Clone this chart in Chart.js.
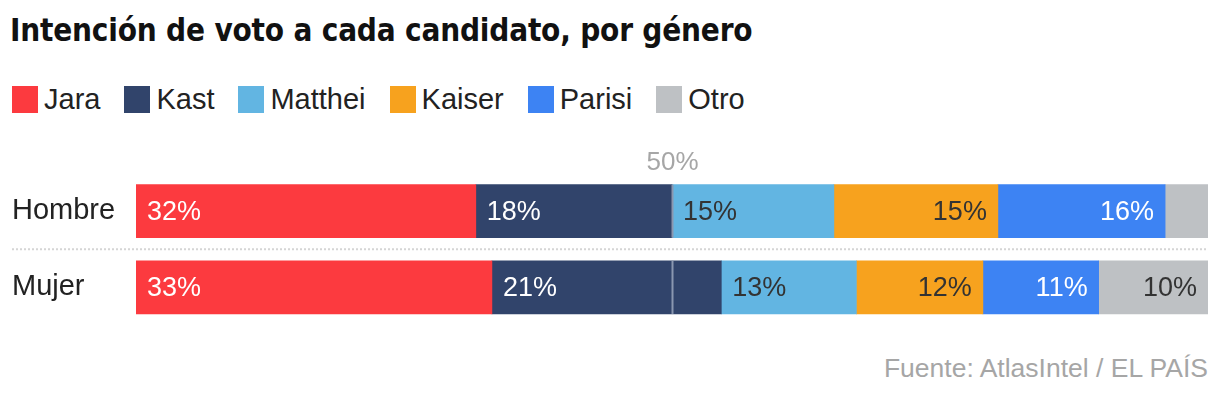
<!DOCTYPE html>
<html>
<head>
<meta charset="utf-8">
<script src="https://cdn.jsdelivr.net/npm/chart.js@4.4.1/dist/chart.umd.min.js"></script>
<style>
    body { margin: 0; background: #fff; width: 1220px; height: 398px; position: relative; overflow: hidden; font-family: "Liberation Sans", Arial, sans-serif; }
    #titulo { position: absolute; left: 10px; top: 12px; font-family: "DejaVu Sans Condensed", "DejaVu Sans", sans-serif; font-weight: bold; font-size: 31.2px; color: #111; letter-spacing: -0.2px; }
    #leyenda { position: absolute; left: 12px; top: 83px; display: flex; }
    .item { display: flex; align-items: center; margin-right: 24px; font-size: 29px; color: #222; }
    .caja { width: 26px; height: 27px; margin-right: 6px; }
    #fuente { position: absolute; right: 12px; top: 353px; font-size: 26.5px; color: #a6a6a6; }
    #wrap { position: absolute; left: 0; top: 141px; width: 1220px; height: 205px; }
</style>
</head>
<body>
<div id="titulo">Intención de voto a cada candidato, por género</div>
<div id="leyenda"></div>
<div id="wrap"><canvas id="grafico"></canvas></div>
<div id="fuente">Fuente: AtlasIntel / EL PAÍS</div>
<script>
// DATOS
const generos = ['Hombre', 'Mujer'];
const candidatos = ['Jara', 'Kast', 'Matthei', 'Kaiser', 'Parisi', 'Otro'];
const colores = ['#fc3a3f', '#31446b', '#62b5e2', '#f7a21e', '#3d83f3', '#bec1c4'];
const colorTexto = ['#fff', '#fff', '#333', '#333', '#fff', '#333'];
const alineado = ['start', 'start', 'start', 'end', 'end', 'end'];
const jara = [31.7, 33.2];
const kast = [18.3, 21.4];
const matthei = [15.1, 12.6];
const kaiser = [15.3, 11.8];
const parisi = [15.6, 10.8];
const otro = [4.0, 10.2];
const series = [jara, kast, matthei, kaiser, parisi, otro];
const marcaMitad = 50;

// leyenda html
const leyenda = document.getElementById('leyenda');
candidatos.forEach((nombre, i) => {
    const item = document.createElement('div');
    item.className = 'item';
    const caja = document.createElement('div');
    caja.className = 'caja';
    caja.style.background = colores[i];
    item.appendChild(caja);
    item.appendChild(document.createTextNode(nombre));
    leyenda.appendChild(item);
});

// etiquetas dentro de las barras + linea 50% + separador
const extras = {
    id: 'extras',
    afterDatasetsDraw(chart) {
        const ctx = chart.ctx;
        const x = chart.scales.x;
        ctx.save();
        ctx.font = '27px "Liberation Sans", Arial, sans-serif';
        ctx.textBaseline = 'middle';
        chart.data.datasets.forEach((ds, i) => {
            chart.getDatasetMeta(i).data.forEach((bar, j) => {
                const v = ds.data[j];
                if (v < 5) return;
                const izq = Math.min(bar.base, bar.x);
                const der = Math.max(bar.base, bar.x);
                ctx.fillStyle = colorTexto[i];
                if (alineado[i] === 'start') {
                    ctx.textAlign = 'left';
                    ctx.fillText(Math.round(v) + '%', izq + 11, bar.y + 1);
                } else {
                    ctx.textAlign = 'right';
                    ctx.fillText(Math.round(v) + '%', der - 11, bar.y + 1);
                }
            });
        });
        // linea del 50%
        const xm = Math.round(x.getPixelForValue(marcaMitad)) + 0.5;
        ctx.strokeStyle = '#8a97b0';
        ctx.lineWidth = 2;
        chart.getDatasetMeta(0).data.forEach(bar => {
            const h = bar.height;
            ctx.beginPath();
            ctx.moveTo(xm, bar.y - h / 2);
            ctx.lineTo(xm, bar.y + h / 2);
            ctx.stroke();
        });
        ctx.fillStyle = '#a6a6a6';
        ctx.font = '26px "Liberation Sans", Arial, sans-serif';
        ctx.textAlign = 'center';
        ctx.textBaseline = 'alphabetic';
        ctx.fillText(marcaMitad + '%', xm, 29);
        // separador punteado
        const y = chart.scales.y;
        const ys = (y.getPixelForValue(0) + y.getPixelForValue(1)) / 2;
        ctx.strokeStyle = '#d5d5d5';
        ctx.lineWidth = 2;
        ctx.setLineDash([2, 2]);
        ctx.beginPath();
        ctx.moveTo(12, ys);
        ctx.lineTo(x.right, ys);
        ctx.stroke();
        ctx.restore();
    }
};

new Chart(document.getElementById('grafico'), {
    type: 'bar',
    data: {
        labels: generos,
        datasets: candidatos.map((c, i) => ({
            label: c,
            data: series[i],
            backgroundColor: colores[i],
            borderWidth: 0,
            barThickness: 53
        }))
    },
    options: {
        indexAxis: 'y',
        responsive: true,
        maintainAspectRatio: false,
        animation: false,
        layout: { padding: { left: 12, right: 12, top: 32, bottom: 6 } },
        plugins: { legend: { display: false }, tooltip: { enabled: false } },
        scales: {
            x: {
                stacked: true, min: 0, max: 100,
                display: false
            },
            y: {
                stacked: true,
                grid: { display: false },
                border: { display: false },
                ticks: {
                    color: '#222',
                    crossAlign: 'far',
                    font: { family: '"Liberation Sans", Arial, sans-serif', size: 29 }
                },
                afterFit(scale) { scale.width = 124; }
            }
        }
    },
    plugins: [extras]
});
</script>
</body>
</html>
